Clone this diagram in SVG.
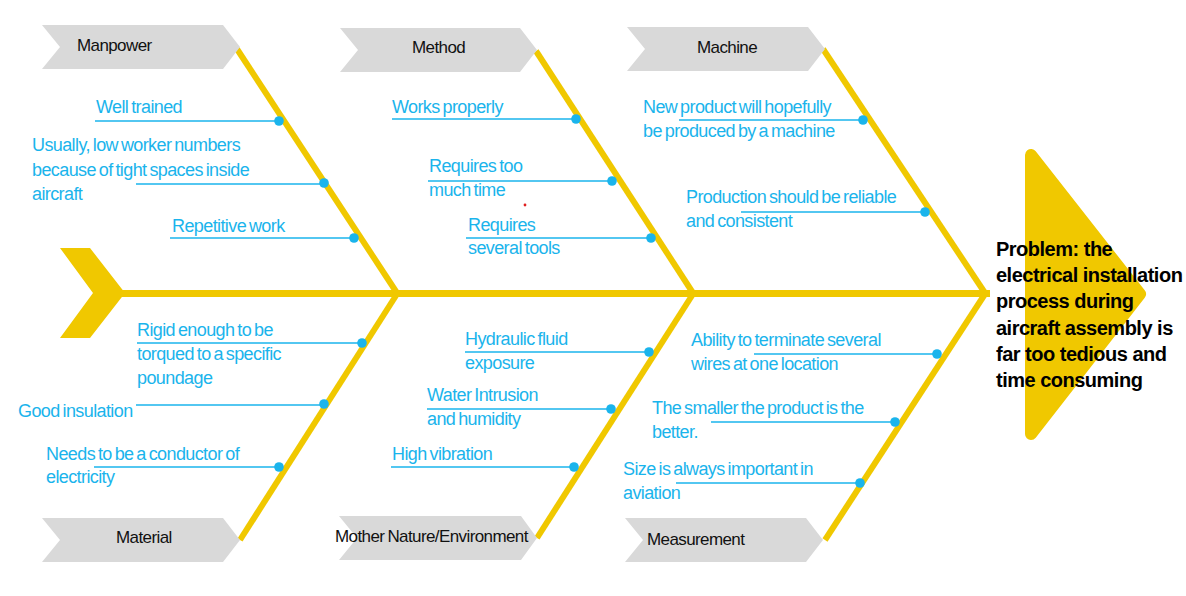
<svg xmlns="http://www.w3.org/2000/svg" width="1186" height="596" viewBox="0 0 1186 596">
  <style>
    .tab { fill: #d9d9d9; }
    .tab-label { font-family: "Liberation Sans", Arial, sans-serif; font-size: 17px; letter-spacing: -0.6px; word-spacing: -1px; fill: #111; }
    .bone { stroke: #f0c800; stroke-width: 6; fill: none; stroke-linecap: butt; }
    .spine { stroke: #f0c800; stroke-width: 7; fill: none; }
    .lead { stroke: #1ab4ec; stroke-width: 1.6; fill: none; }
    .dot { fill: #1ab4ec; }
    .cause { font-family: "Liberation Sans", Arial, sans-serif; font-size: 18px; letter-spacing: -0.6px; word-spacing: -1.5px; fill: #1ab4ec; }
    .problem { font-family: "Liberation Sans", Arial, sans-serif; font-size: 20px; font-weight: bold; letter-spacing: -0.5px; fill: #000; }
  </style>

  <rect width="1186" height="596" fill="#ffffff"/>

  <!-- head of the fish -->
  <g id="head">
    <polygon points="1031,155 1031,434 1140,294" fill="#f0c800" stroke="#f0c800" stroke-width="12" stroke-linejoin="round"/>
  </g>

  <!-- spine, tail and bones -->
  <g id="connectors">
    <polygon points="60,248 90,248 125,293 90,338 60,338 93,293" fill="#f0c800"/>
    <line class="spine" x1="120" y1="293.5" x2="990" y2="293.5"/>
    <line class="bone" x1="237" y1="49" x2="397" y2="293"/>
    <line class="bone" x1="536" y1="51" x2="693" y2="293"/>
    <line class="bone" x1="823" y1="49" x2="985" y2="293"/>
    <line class="bone" x1="397" y1="294" x2="240" y2="540"/>
    <line class="bone" x1="693" y1="294" x2="537" y2="538"/>
    <line class="bone" x1="985" y1="294" x2="825" y2="540"/>

    <!-- leader lines -->
    <line class="lead" x1="95" y1="121" x2="279" y2="121"/>
    <line class="lead" x1="136" y1="184" x2="324" y2="184"/>
    <line class="lead" x1="170" y1="238" x2="354" y2="238"/>
    <line class="lead" x1="392" y1="119" x2="576" y2="119"/>
    <line class="lead" x1="428" y1="181" x2="612" y2="181"/>
    <line class="lead" x1="466" y1="238" x2="651" y2="238"/>
    <line class="lead" x1="679" y1="120" x2="863" y2="120"/>
    <line class="lead" x1="741" y1="212" x2="925" y2="212"/>
    <line class="lead" x1="137" y1="343" x2="362" y2="343"/>
    <line class="lead" x1="136" y1="405" x2="324" y2="405"/>
    <line class="lead" x1="94" y1="467" x2="279" y2="467"/>
    <line class="lead" x1="465" y1="352" x2="649" y2="352"/>
    <line class="lead" x1="427" y1="409" x2="611" y2="409"/>
    <line class="lead" x1="391" y1="467" x2="574" y2="467"/>
    <line class="lead" x1="754" y1="354" x2="937" y2="354"/>
    <line class="lead" x1="711" y1="422" x2="895" y2="422"/>
    <line class="lead" x1="676" y1="483" x2="860" y2="483"/>

    <!-- attachment dots -->
    <circle class="dot" cx="279" cy="121" r="4.8"/>
    <circle class="dot" cx="324" cy="183" r="4.8"/>
    <circle class="dot" cx="354" cy="238" r="4.8"/>
    <circle class="dot" cx="576" cy="119" r="4.8"/>
    <circle class="dot" cx="612" cy="181" r="4.8"/>
    <circle class="dot" cx="651" cy="238" r="4.8"/>
    <circle class="dot" cx="863" cy="120" r="4.8"/>
    <circle class="dot" cx="925" cy="212" r="4.8"/>
    <circle class="dot" cx="362" cy="343" r="4.8"/>
    <circle class="dot" cx="324" cy="404" r="4.8"/>
    <circle class="dot" cx="279" cy="467" r="4.8"/>
    <circle class="dot" cx="649" cy="352" r="4.8"/>
    <circle class="dot" cx="611" cy="409" r="4.8"/>
    <circle class="dot" cx="574" cy="467" r="4.8"/>
    <circle class="dot" cx="937" cy="354" r="4.8"/>
    <circle class="dot" cx="895" cy="422" r="4.8"/>
    <circle class="dot" cx="860" cy="483" r="4.8"/>
  </g>

  <!-- category tabs -->
  <g id="manpower">
    <polygon class="tab" points="42,25 223,25 240,47 223,69 42,69 60,47"/>
    <text class="tab-label" x="77" y="51">Manpower</text>
  </g>
  <g id="method">
    <polygon class="tab" points="340,28 520,28 537,50 520,72 340,72 358,50"/>
    <text class="tab-label" x="412" y="53">Method</text>
  </g>
  <g id="machine">
    <polygon class="tab" points="627,27 808,27 825,49 808,71 627,71 645,49"/>
    <text class="tab-label" x="697" y="53">Machine</text>
  </g>
  <g id="material">
    <polygon class="tab" points="42,518 223,518 240,540 223,562 42,562 60,540"/>
    <text class="tab-label" x="116" y="543">Material</text>
  </g>
  <g id="environment">
    <polygon class="tab" points="339,516 521,516 537,538 521,560 339,560 357,538"/>
    <text class="tab-label" x="335" y="542">Mother Nature/Environment</text>
  </g>
  <g id="measurement">
    <polygon class="tab" points="625,518 806,518 823,540 806,562 625,562 643,540"/>
    <text class="tab-label" x="647" y="545">Measurement</text>
  </g>

  <!-- causes -->
  <g id="manpower-causes">
    <text class="cause" x="96" y="113">Well trained</text>
    <text class="cause" x="32" y="151">Usually, low worker numbers</text>
    <text class="cause" x="32" y="176">because of tight spaces inside</text>
    <text class="cause" x="32" y="200">aircraft</text>
    <text class="cause" x="172" y="232">Repetitive work</text>
  </g>
  <g id="method-causes">
    <text class="cause" x="392" y="113">Works properly</text>
    <text class="cause" x="429" y="172">Requires too</text>
    <text class="cause" x="429" y="196">much time</text>
    <text class="cause" x="468" y="231">Requires</text>
    <text class="cause" x="468" y="254">several tools</text>
  </g>
  <g id="machine-causes">
    <text class="cause" x="643" y="113">New product will hopefully</text>
    <text class="cause" x="643" y="137">be produced by a machine</text>
    <text class="cause" x="686" y="203">Production should be reliable</text>
    <text class="cause" x="686" y="227">and consistent</text>
  </g>
  <g id="material-causes">
    <text class="cause" x="137" y="336">Rigid enough to be</text>
    <text class="cause" x="137" y="360">torqued to a specific</text>
    <text class="cause" x="137" y="384">poundage</text>
    <text class="cause" x="18" y="417">Good insulation</text>
    <text class="cause" x="46" y="460">Needs to be a conductor of</text>
    <text class="cause" x="46" y="483">electricity</text>
  </g>
  <g id="environment-causes">
    <text class="cause" x="465" y="345">Hydraulic fluid</text>
    <text class="cause" x="465" y="369">exposure</text>
    <text class="cause" x="427" y="401">Water Intrusion</text>
    <text class="cause" x="427" y="425">and humidity</text>
    <text class="cause" x="392" y="460">High vibration</text>
  </g>
  <g id="measurement-causes">
    <text class="cause" x="691" y="346">Ability to terminate several</text>
    <text class="cause" x="691" y="370">wires at one location</text>
    <text class="cause" x="652" y="414">The smaller the product is the</text>
    <text class="cause" x="652" y="438">better.</text>
    <text class="cause" x="623" y="475">Size is always important in</text>
    <text class="cause" x="623" y="499">aviation</text>
  </g>

  <!-- problem statement -->
  <g id="problem">
    <text class="problem" x="996" y="256">Problem: the</text>
    <text class="problem" x="996" y="282">electrical installation</text>
    <text class="problem" x="996" y="308">process during</text>
    <text class="problem" x="996" y="335">aircraft assembly is</text>
    <text class="problem" x="996" y="361">far too tedious and</text>
    <text class="problem" x="996" y="387">time consuming</text>
  </g>

  <!-- stray mark -->
  <circle cx="525" cy="205" r="1.4" fill="#e02020"/>
</svg>
